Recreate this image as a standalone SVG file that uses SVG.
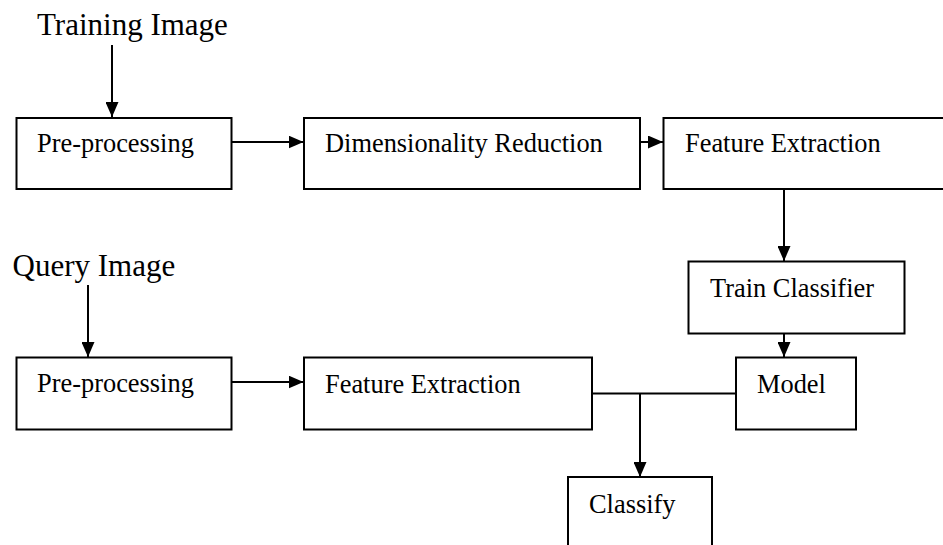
<svg xmlns="http://www.w3.org/2000/svg" width="943" height="545" viewBox="0 0 943 545">
<style>
.box{fill:#fff;stroke:#000;stroke-width:2}
.lbl{font-family:"Liberation Serif","Times New Roman",serif;font-size:26.4px;fill:#000}
.ttl{font-family:"Liberation Serif","Times New Roman",serif;font-size:31px;fill:#000}
.ln{fill:none;stroke:#000;stroke-width:2}
</style>
<defs>
<marker id="ah" viewBox="0 0 15 13" refX="15" refY="6.5" markerWidth="15" markerHeight="13" orient="auto" markerUnits="userSpaceOnUse">
<path d="M0,0 L15,6.5 L0,13 Z" fill="#000"/>
</marker>
</defs>
<rect width="943" height="545" fill="#fff"/>
<text class="ttl" x="37" y="35">Training Image</text>
<text class="ttl" x="12.5" y="276">Query Image</text>
<g id="connectors">
<line class="ln" x1="112" y1="45" x2="112" y2="117" marker-end="url(#ah)"/>
<line class="ln" x1="232" y1="142" x2="303.5" y2="142" marker-end="url(#ah)"/>
<line class="ln" x1="640" y1="142" x2="663" y2="142" marker-end="url(#ah)"/>
<line class="ln" x1="784" y1="189" x2="784" y2="261" marker-end="url(#ah)"/>
<line class="ln" x1="784" y1="333" x2="784" y2="357" marker-end="url(#ah)"/>
<line class="ln" x1="88" y1="285" x2="88" y2="357" marker-end="url(#ah)"/>
<line class="ln" x1="232" y1="382" x2="303.5" y2="382" marker-end="url(#ah)"/>
<line class="ln" x1="592" y1="393.5" x2="736" y2="393.5"/>
<line class="ln" x1="640" y1="393.5" x2="640" y2="477" marker-end="url(#ah)"/>
</g>
<g id="pre1"><rect class="box" x="16.5" y="118" width="215" height="71"/><text class="lbl" x="37" y="152">Pre-processing</text></g>
<g id="dim"><rect class="box" x="304" y="118" width="336" height="71"/><text class="lbl" x="325" y="152">Dimensionality Reduction</text></g>
<g id="fe1"><rect class="box" x="663.5" y="118" width="300" height="71"/><text class="lbl" x="685" y="152">Feature Extraction</text></g>
<g id="train"><rect class="box" x="688.5" y="261.5" width="216" height="72"/><text class="lbl" x="710" y="297">Train Classifier</text></g>
<g id="pre2"><rect class="box" x="16.5" y="357.5" width="215" height="72"/><text class="lbl" x="37" y="392">Pre-processing</text></g>
<g id="fe2"><rect class="box" x="304" y="357.5" width="288" height="72"/><text class="lbl" x="325" y="392.5">Feature Extraction</text></g>
<g id="model"><rect class="box" x="736" y="357.5" width="120" height="72"/><text class="lbl" x="757" y="392.5">Model</text></g>
<g id="classify"><path class="box" d="M568,560 V477 H712 V560"/><text class="lbl" x="589" y="513">Classify</text></g>
</svg>
